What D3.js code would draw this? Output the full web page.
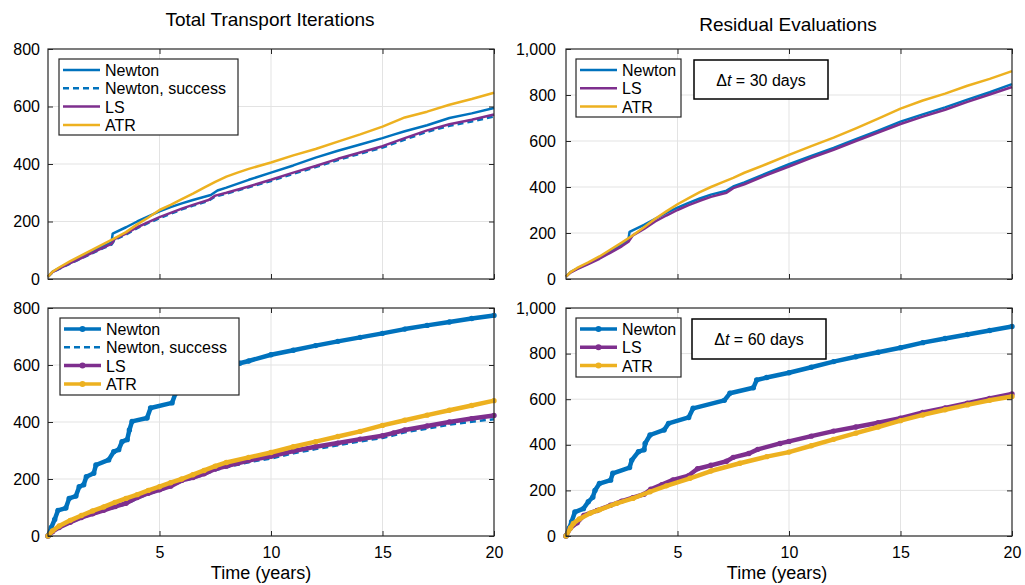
<!DOCTYPE html>
<html>
<head>
<meta charset="utf-8">
<script src="https://cdn.jsdelivr.net/npm/d3@7"></script>
<style>
  body { margin: 0; background: #fff; }
  svg text { font-family: "Liberation Sans", Arial, Helvetica, sans-serif; fill: #000; }
</style>
</head>
<body>
<div id="chart"></div>
<script>
// time in years, value = cumulative count
var xTicks = [5, 10, 15, 20];
var yTicksIter = [0, 200, 400, 600, 800];
var yTicksResid = [0, 200, 400, 600, 800, 1000];

// --- dt = 30 days, total transport iterations
var iter30Newton = [[0,8],[0.2,25],[0.5,38],[1,58],[1.5,78],[2,97],[2.5,115],[2.85,127],[2.9,158],[3.5,180],[4,200],[4.5,218],[5,235],[5.5,250],[6,263],[6.5,275],[7.3,292],[7.6,308],[8,318],[9,345],[10,370],[11,395],[12,422],[13,446],[14,468],[15,490],[15.5,502],[16,514],[17,535],[18,560],[19,576],[20,595]];
var iter30NewtonOk = [[0,8],[0.2,23],[0.5,35],[1,54],[1.5,72],[2,90],[2.5,108],[2.85,120],[3,137],[3.5,155],[4,177],[4.5,195],[5,211],[5.5,227],[6,242],[6.5,255],[7.2,272],[7.5,287],[8,297],[9,319],[10,341],[11,366],[12,389],[13,414],[14,436],[15,457],[16,485],[17,512],[18,533],[19,548],[20,565]];
var iter30LS = [[0,8],[0.2,24],[0.5,36],[1,55],[1.5,73],[2,92],[2.5,110],[2.85,122],[3,140],[3.5,158],[4,180],[4.5,198],[5,215],[5.5,230],[6,245],[6.5,258],[7.2,275],[7.5,290],[8,300],[9,322],[10,345],[11,370],[12,393],[13,418],[14,440],[15,462],[16,490],[17,517],[18,538],[19,554],[20,572]];
var iter30ATR = [[0,8],[0.2,25],[0.5,40],[1,62],[1.5,82],[2,102],[2.5,122],[3,142],[3.5,163],[4,190],[4.5,214],[5,240],[5.5,258],[6,278],[6.5,297],[7,318],[7.5,338],[8,356],[8.5,370],[9,383],[10,405],[11,430],[12,452],[13,478],[14,503],[15,530],[16,562],[17,582],[18,606],[19,626],[20,648]];

// --- dt = 30 days, residual evaluations
var resid30Newton = [[0,10],[0.2,30],[0.5,45],[1,68],[1.5,92],[2,120],[2.5,150],[2.8,172],[2.85,205],[3.5,235],[4,262],[4.5,287],[5,310],[5.5,331],[6,350],[6.5,367],[7.2,384],[7.5,402],[8,420],[9,460],[10,499],[11,535],[12,570],[13,608],[14,645],[15,684],[16,716],[17,746],[18,780],[19,812],[20,847]];
var resid30LS = [[0,10],[0.2,28],[0.5,43],[1,65],[1.5,88],[2,115],[2.5,142],[2.8,162],[3,190],[3.5,218],[4,250],[4.5,276],[5,300],[5.5,321],[6,340],[6.5,357],[7.2,375],[7.5,395],[8,412],[9,452],[10,489],[11,527],[12,562],[13,600],[14,637],[15,674],[16,706],[17,736],[18,770],[19,802],[20,835]];
var resid30ATR = [[0,10],[0.2,30],[0.5,48],[1,72],[1.5,98],[2,128],[2.5,158],[3,190],[3.5,225],[4,262],[4.5,294],[5,325],[5.5,352],[6,378],[6.5,400],[7,420],[7.5,440],[8,462],[9,500],[10,540],[11,578],[12,615],[13,655],[14,697],[15,741],[16,776],[17,806],[18,840],[19,870],[20,904]];

// --- dt = 60 days, total transport iterations
var iter60Newton = [[0,0],[0.15,30],[0.3,58],[0.45,90],[0.8,98],[0.95,132],[1.25,140],[1.4,173],[1.6,180],[1.72,208],[2.05,220],[2.15,249],[2.72,267],[2.95,296],[3.17,303],[3.32,331],[3.55,338],[3.65,372],[3.77,402],[4.44,414],[4.6,449],[5.56,467],[5.72,501],[6,510],[7,540],[7.4,572],[8,590],[8.6,606],[9,614],[10,636],[11,652],[12,668],[13,683],[14,697],[15,711],[16,726],[17,739],[18,751],[19,763],[20,774]];
var iter60NewtonOk = [[0,0],[0.2,14],[0.5,28],[1,46],[1.5,63],[2,76],[2.5,88],[3,100],[3.5,112],[4,132],[4.5,147],[5,159],[5.5,172],[6,192],[6.5,202],[7,215],[7.5,231],[8,241],[8.5,250],[9,259],[10,272],[11,290],[12,305],[13,318],[14,332],[15,344],[15.5,353],[16,364],[17,377],[18,391],[19,401],[20,410]];
var iter60LS = [[0,0],[0.2,15],[0.5,30],[1,48],[1.5,65],[2,78],[2.5,90],[3,103],[3.5,115],[4,135],[4.5,150],[5,162],[5.5,175],[6,195],[6.5,205],[7,218],[7.5,235],[8,245],[8.5,255],[9,265],[10,280],[11,298],[12,313],[13,326],[14,340],[15,352],[15.5,362],[16,372],[17,386],[18,400],[19,412],[20,423]];
var iter60ATR = [[0,0],[0.2,18],[0.5,35],[1,55],[1.5,72],[2,88],[2.5,102],[3,118],[3.5,132],[4,145],[4.5,160],[5,173],[5.5,187],[6,200],[6.5,215],[7,230],[7.5,245],[8,258],[9,276],[10,293],[11,313],[12,331],[13,349],[14,367],[15,388],[16,406],[17,424],[18,441],[19,458],[20,475]];

// --- dt = 60 days, residual evaluations
var resid60Newton = [[0,0],[0.15,35],[0.25,63],[0.4,105],[0.78,120],[1,150],[1.2,170],[1.3,200],[1.5,230],[2,245],[2.1,275],[2.85,300],[2.95,333],[3.25,370],[3.5,378],[3.55,406],[3.77,443],[4.4,465],[4.6,494],[5.5,520],[5.7,560],[7.1,595],[7.35,626],[8.4,650],[8.55,684],[9,695],[10,716],[11,740],[12,765],[13,786],[14,806],[15,826],[16,848],[17,866],[18,884],[19,901],[20,919]];
var resid60LS = [[0,0],[0.2,35],[0.5,58],[0.8,90],[1.4,112],[2,135],[2.5,153],[3,168],[3.5,183],[3.8,205],[4.3,225],[4.8,246],[5.5,265],[5.9,295],[6.5,310],[7.2,328],[7.5,345],[8.2,362],[8.6,380],[9.6,406],[10,415],[11,438],[12,460],[13,478],[14,497],[15,517],[16,542],[17,562],[18,582],[19,603],[20,623]];
var resid60ATR = [[0,0],[0.2,35],[0.33,55],[0.6,75],[1.08,100],[1.5,115],[2.27,143],[3,165],[3.77,194],[4.5,220],[5.56,253],[6.5,285],[7.8,319],[9,348],[10,368],[11,396],[12,424],[13,451],[14,478],[15,506],[16,531],[17,554],[18,575],[19,595],[20,612]];

var colNewton = "#0072bd";
var colLS = "#7e2f8e";
var colATR = "#edb120";
var axisColor = "#262626";
var gridColor = "#e3e3e3";

var svgWidth = 1025;
var svgHeight = 585;

var svg = d3.select("#chart").append("svg")
	.attr("width", svgWidth)
	.attr("height", svgHeight);

var panels = [
	{
		left: 48, right: 494, top: 49, bottom: 279, ymax: 800, yTicks: yTicksIter, tickPad: 8,
		title: "Total Transport Iterations", titleY: 26, xLabel: false, markers: false,
		series: [
			{name: "Newton", data: iter30Newton, color: colNewton},
			{name: "Newton, success", data: iter30NewtonOk, color: colNewton, dash: true},
			{name: "LS", data: iter30LS, color: colLS},
			{name: "ATR", data: iter30ATR, color: colATR}
		],
		legend: {x: 59, y: 59, w: 179, h: 76}
	},
	{
		left: 566, right: 1012, top: 49, bottom: 279, ymax: 1000, yTicks: yTicksResid, tickPad: 10,
		title: "Residual Evaluations", titleY: 31, xLabel: false, markers: false,
		series: [
			{name: "Newton", data: resid30Newton, color: colNewton},
			{name: "LS", data: resid30LS, color: colLS},
			{name: "ATR", data: resid30ATR, color: colATR}
		],
		legend: {x: 576, y: 59, w: 105, h: 58},
		note: {x: 694, y: 60, w: 134, h: 39, days: 30}
	},
	{
		left: 48, right: 494, top: 308, bottom: 536, ymax: 800, yTicks: yTicksIter, tickPad: 8,
		title: null, xLabel: true, xLabelX: 261, markers: true,
		series: [
			{name: "Newton", data: iter60Newton, color: colNewton},
			{name: "Newton, success", data: iter60NewtonOk, color: colNewton, dash: true},
			{name: "LS", data: iter60LS, color: colLS},
			{name: "ATR", data: iter60ATR, color: colATR}
		],
		legend: {x: 60, y: 318, w: 179, h: 77}
	},
	{
		left: 566, right: 1012, top: 308, bottom: 536, ymax: 1000, yTicks: yTicksResid, tickPad: 10,
		title: null, xLabel: true, xLabelX: 777, markers: true,
		series: [
			{name: "Newton", data: resid60Newton, color: colNewton},
			{name: "LS", data: resid60LS, color: colLS},
			{name: "ATR", data: resid60ATR, color: colATR}
		],
		legend: {x: 576, y: 318, w: 105, h: 59},
		note: {x: 692, y: 319, w: 134, h: 40, days: 60}
	}
];

function drawPanel(p) {
	var g = svg.append("g");
	var x = d3.scaleLinear().domain([0, 20]).range([p.left, p.right]);
	var y = d3.scaleLinear().domain([0, p.ymax]).range([p.bottom, p.top]);

	// grid
	g.append("g").selectAll("line").data(xTicks.filter(function(t){ return t < 20; }))
		.enter().append("line")
		.attr("x1", function(d){ return x(d); }).attr("x2", function(d){ return x(d); })
		.attr("y1", p.top).attr("y2", p.bottom)
		.attr("stroke", gridColor).attr("stroke-width", 1);
	g.append("g").selectAll("line").data(p.yTicks.filter(function(t){ return t > 0 && t < p.ymax; }))
		.enter().append("line")
		.attr("x1", p.left).attr("x2", p.right)
		.attr("y1", function(d){ return y(d); }).attr("y2", function(d){ return y(d); })
		.attr("stroke", gridColor).attr("stroke-width", 1);

	// data
	var line = d3.line()
		.x(function(d){ return x(d[0]); })
		.y(function(d){ return y(d[1]); });

	p.series.forEach(function(s) {
		var thick = p.markers && !s.dash;
		g.append("path")
			.datum(s.data)
			.attr("d", line)
			.attr("fill", "none")
			.attr("stroke", s.color)
			.attr("stroke-width", thick ? 4.5 : 2.5)
			.attr("stroke-dasharray", s.dash ? "6,4" : null)
			.attr("stroke-linejoin", "round");
		if (thick) {
			g.append("g").selectAll("circle").data(s.data)
				.enter().append("circle")
				.attr("cx", function(d){ return x(d[0]); })
				.attr("cy", function(d){ return y(d[1]); })
				.attr("r", 2.7)
				.attr("fill", s.color);
		}
	});

	// axes, ticks pointing inward on all four sides
	var fmt = p.ymax >= 1000 ? d3.format(",") : d3.format("d");
	var xb = g.append("g").attr("transform", "translate(0," + p.bottom + ")")
		.call(d3.axisBottom(x).tickValues(xTicks).tickSizeInner(-5).tickSizeOuter(0).tickPadding(11)
			.tickFormat(p.xLabel ? d3.format("d") : function(){ return ""; }));
	var xt = g.append("g").attr("transform", "translate(0," + p.top + ")")
		.call(d3.axisTop(x).tickValues(xTicks).tickSizeInner(-5).tickSizeOuter(0).tickFormat(function(){ return ""; }));
	var yl = g.append("g").attr("transform", "translate(" + p.left + ",0)")
		.call(d3.axisLeft(y).tickValues(p.yTicks).tickSizeInner(-5).tickSizeOuter(0).tickPadding(p.tickPad).tickFormat(fmt));
	var yr = g.append("g").attr("transform", "translate(" + p.right + ",0)")
		.call(d3.axisRight(y).tickValues(p.yTicks).tickSizeInner(-5).tickSizeOuter(0).tickFormat(function(){ return ""; }));
	[xb, xt, yl, yr].forEach(function(a) {
		a.select(".domain").remove();
		a.selectAll(".tick line").attr("stroke", axisColor);
		a.selectAll("text").attr("font-size", 16).attr("fill", "#000")
			.attr("font-family", "'Liberation Sans', Arial, sans-serif");
	});

	g.append("rect")
		.attr("x", p.left).attr("y", p.top)
		.attr("width", p.right - p.left).attr("height", p.bottom - p.top)
		.attr("fill", "none").attr("stroke", axisColor).attr("stroke-width", 1.2);

	if (p.title) {
		g.append("text")
			.attr("x", (p.left + p.right) / 2 - 1).attr("y", p.titleY)
			.attr("text-anchor", "middle").attr("font-size", 19)
			.text(p.title);
	}
	if (p.xLabel) {
		g.append("text")
			.attr("x", p.xLabelX).attr("y", 579)
			.attr("text-anchor", "middle").attr("font-size", 18)
			.text("Time (years)");
	}

	// legend
	var L = p.legend;
	var lg = g.append("g");
	lg.append("rect")
		.attr("x", L.x).attr("y", L.y).attr("width", L.w).attr("height", L.h)
		.attr("fill", "#fff").attr("stroke", axisColor).attr("stroke-width", 1.2);
	p.series.forEach(function(s, i) {
		var ly = L.y + 11 + i * 18.3;
		var thick = p.markers && !s.dash;
		lg.append("line")
			.attr("x1", L.x + 4).attr("x2", L.x + 41)
			.attr("y1", ly).attr("y2", ly)
			.attr("stroke", s.color)
			.attr("stroke-width", thick ? 3.5 : 2.5)
			.attr("stroke-dasharray", s.dash ? "6,4" : null);
		if (thick) {
			lg.append("circle").attr("cx", L.x + 22.5).attr("cy", ly).attr("r", 3).attr("fill", s.color);
		}
		lg.append("text")
			.attr("x", L.x + 46).attr("y", ly + 6)
			.attr("font-size", 16)
			.text(s.name);
	});

	// dt annotation
	if (p.note) {
		var N = p.note;
		g.append("rect")
			.attr("x", N.x).attr("y", N.y).attr("width", N.w).attr("height", N.h)
			.attr("fill", "#fff").attr("stroke", "#000").attr("stroke-width", 1.5);
		var t = g.append("text")
			.attr("x", N.x + N.w / 2).attr("y", N.y + N.h / 2 + 6)
			.attr("text-anchor", "middle").attr("font-size", 16);
		t.append("tspan").text("\u0394");
		t.append("tspan").attr("font-style", "italic").text("t");
		t.append("tspan").text(" = " + N.days + " days");
	}
}

panels.forEach(drawPanel);
</script>
</body>
</html>
